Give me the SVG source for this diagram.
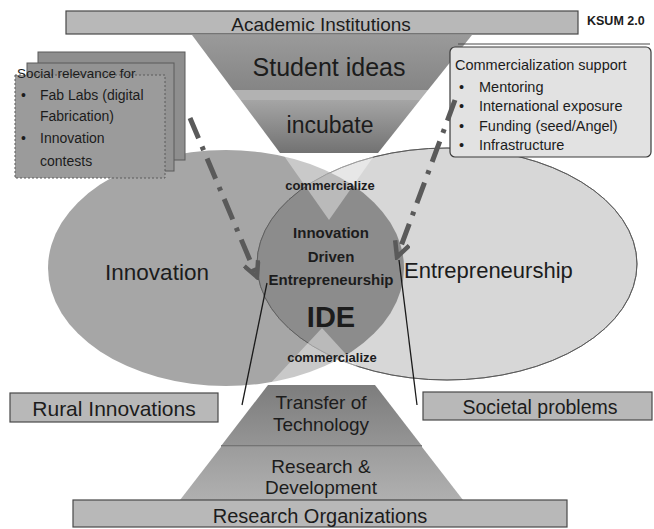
<svg xmlns="http://www.w3.org/2000/svg" width="654" height="529" viewBox="0 0 654 529">
<defs>
<style>
text{font-family:"Liberation Sans",Arial,sans-serif;fill:#1c1c1c}
.c{text-anchor:middle}
.b{font-weight:bold}
.bar{fill:#b8b8b8;stroke:#484848;stroke-width:1.2}
.page{stroke:#5a5a5a;stroke-width:1}
.dash{fill:none;stroke:#5a5a5a;stroke-width:5;stroke-dasharray:22 9 4 9}
.thin{stroke:#1a1a1a;stroke-width:1.3;fill:none}
</style>
<linearGradient id="g1" x1="0" y1="0" x2="0" y2="1"><stop offset="0" stop-color="#9a9a9a"/><stop offset="1" stop-color="#858585"/></linearGradient>
<linearGradient id="g2" x1="0" y1="0" x2="0" y2="1"><stop offset="0" stop-color="#a5a5a5"/><stop offset="1" stop-color="#727272"/></linearGradient>
<linearGradient id="g3" x1="0" y1="0" x2="0" y2="1"><stop offset="0" stop-color="#7d7d7d"/><stop offset="1" stop-color="#959595"/></linearGradient>
<linearGradient id="g4" x1="0" y1="0" x2="0" y2="1"><stop offset="0" stop-color="#9c9c9c"/><stop offset="1" stop-color="#b0b0b0"/></linearGradient>
<clipPath id="clipL"><ellipse cx="226" cy="268" rx="178" ry="118"/></clipPath>
<marker id="chev" markerUnits="userSpaceOnUse" viewBox="0 0 14 12" markerWidth="21" markerHeight="18" refX="12" refY="6" orient="auto">
<path d="M2,1 L12,6 L2,11" fill="none" stroke="#5a5a5a" stroke-width="3" stroke-dasharray="none"/>
</marker>
</defs>
<rect width="654" height="529" fill="#ffffff"/>

<g id="innovation">
<ellipse cx="226" cy="268" rx="178" ry="118" fill="#a6a6a6"/>
</g>
<g id="entrepreneurship">
<ellipse cx="447" cy="264" rx="190" ry="116" fill="#d7d7d7" stroke="#6a6a6a" stroke-width="1"/>
</g>
<g id="ide">
<ellipse cx="447" cy="264" rx="190" ry="116" fill="#8c8c8c" clip-path="url(#clipL)"/>
<ellipse cx="447" cy="264" rx="190" ry="116" fill="none" stroke="#555" stroke-width="0.8"/>
<polygon points="282,153 376,153 329,220" fill="#ffffff" opacity="0.4"/>
<polygon points="268,386 375,386 322,328" fill="#ffffff" opacity="0.4"/>
<text class="c b" x="330" y="190" font-size="13">commercialize</text>
<text class="c b" x="331" y="238" font-size="15">Innovation</text>
<text class="c b" x="331" y="262" font-size="15">Driven</text>
<text class="c b" x="331" y="285" font-size="15">Entrepreneurship</text>
<text class="c b" x="331" y="327" font-size="29">IDE</text>
<text class="c b" x="332" y="362" font-size="13">commercialize</text>
</g>
<g id="innovation-label"><text class="c" x="157" y="280" font-size="22.5">Innovation</text></g>
<g id="entrepreneurship-label"><text x="404" y="278" font-size="22">Entrepreneurship</text></g>

<g id="academic-institutions">
<rect class="bar" x="66" y="11" width="512" height="23"/>
<text class="c" x="321" y="31" font-size="19">Academic Institutions</text>
</g>
<g id="ksum"><text class="b" x="587" y="25" font-size="12.5">KSUM 2.0</text></g>

<g id="top-funnel">
<polygon points="192,35 472,35 428,90 233,90" fill="url(#g1)"/>
<polygon points="233,90 428,90 420,100 240.5,100" fill="#b2b2b2"/>
<polygon points="240.5,100 420,100 378,153 280,153" fill="url(#g2)"/>
<text class="c" x="329" y="76" font-size="25">Student ideas</text>
<text class="c" x="330" y="133" font-size="23">incubate</text>
</g>

<g id="bottom-pyramid">
<polygon points="268,385 375,385 422,446 221,446" fill="url(#g3)"/>
<line x1="221" y1="446" x2="422" y2="446" stroke="#6a6a6a" stroke-width="1.5"/>
<polygon points="221,447 422,447 463,500 180,500" fill="url(#g4)"/>
<text class="c" x="321" y="409" font-size="19">Transfer of</text>
<text class="c" x="321" y="431" font-size="19">Technology</text>
<text class="c" x="321" y="473" font-size="19">Research &amp;</text>
<text class="c" x="321" y="494" font-size="19">Development</text>
</g>

<g id="research-organizations">
<rect class="bar" x="73" y="500" width="494" height="27"/>
<text class="c" x="320" y="523" font-size="20">Research Organizations</text>
</g>

<g id="rural-innovations">
<rect class="bar" x="10" y="393" width="208" height="29"/>
<text class="c" x="114" y="416" font-size="21">Rural Innovations</text>
</g>

<g id="societal-problems">
<rect class="bar" x="423" y="392" width="229" height="28"/>
<text class="c" x="540" y="414" font-size="19.5">Societal problems</text>
</g>

<g id="social-relevance">
<rect class="page" x="38" y="52" width="147" height="108" fill="#8e8e8e"/>
<rect class="page" x="27" y="63" width="147" height="108" fill="#939393"/>
<rect class="page" x="15" y="75" width="150" height="103" fill="#9b9b9b" stroke-dasharray="2 2"/>
<text x="17" y="78" font-size="13.5">Social relevance for</text>
<text x="21" y="100" font-size="14">•</text><text x="40" y="100" font-size="14">Fab Labs (digital</text>
<text x="40" y="121" font-size="14">Fabrication)</text>
<text x="21" y="143" font-size="14">•</text><text x="40" y="143" font-size="14">Innovation</text>
<text x="40" y="166" font-size="14">contests</text>
</g>

<g id="commercialization-support">
<line x1="458" y1="44" x2="650" y2="44" stroke="#4a4a4a" stroke-width="1.2"/>
<rect x="450" y="47" width="201" height="110" rx="5" fill="#e2e2e2" stroke="#3a3a3a" stroke-width="1.2"/>
<text x="455" y="70" font-size="14.5">Commercialization support</text>
<text x="459" y="92" font-size="14.5">•</text><text x="479" y="92" font-size="14.5">Mentoring</text>
<text x="459" y="111" font-size="14.5">•</text><text x="479" y="111" font-size="14.5">International exposure</text>
<text x="459" y="131" font-size="14.5">•</text><text x="479" y="131" font-size="14.5">Funding (seed/Angel)</text>
<text x="459" y="150" font-size="14.5">•</text><text x="479" y="150" font-size="14.5">Infrastructure</text>
</g>

<g id="connectors">
<line class="dash" x1="190" y1="118" x2="257" y2="277" marker-end="url(#chev)"/>
<line class="dash" x1="455" y1="100" x2="397" y2="257" marker-end="url(#chev)"/>
<line class="thin" x1="267" y1="283" x2="242" y2="405"/>
<line class="thin" x1="399" y1="260" x2="417" y2="405"/>
</g>
</svg>
